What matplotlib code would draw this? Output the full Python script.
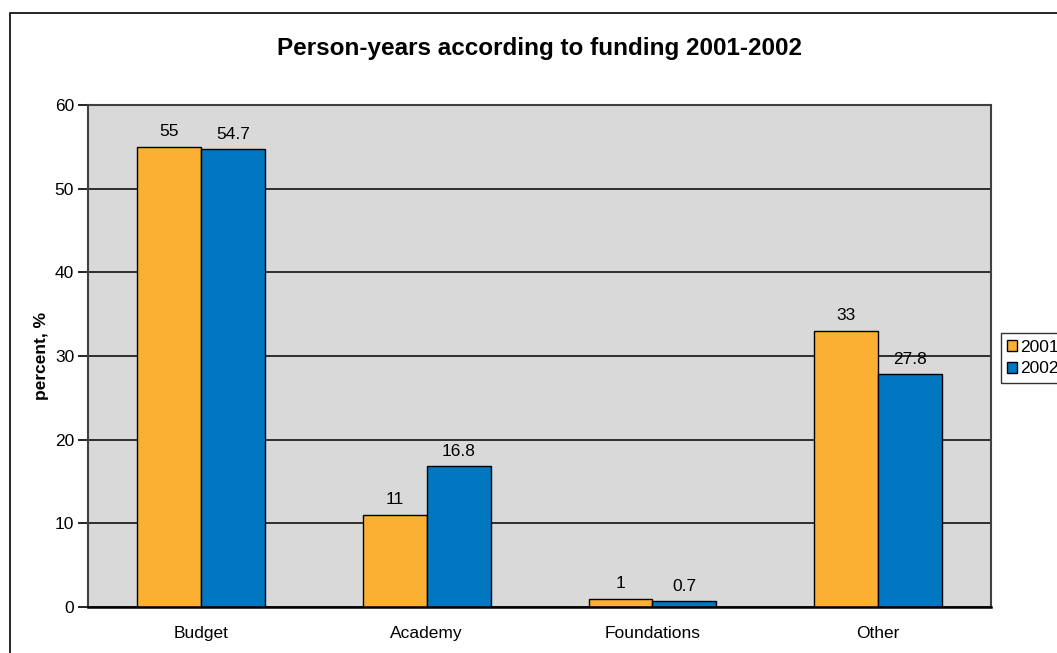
import numpy as np
import matplotlib.pyplot as plt
from matplotlib.patches import Rectangle

categories = ["Budget", "Academy", "Foundations", "Other"]
years = ["2001", "2002"]
values_2001 = [55, 11, 1, 33]
values_2002 = [54.7, 16.8, 0.7, 27.8]
labels_2001 = ["55", "11", "1", "33"]
labels_2002 = ["54.7", "16.8", "0.7", "27.8"]

plt.rcParams['font.family'] = ['Liberation Sans', 'DejaVu Sans']

fig = plt.figure(figsize=(10.57, 6.53), dpi=100)
ax = fig.add_axes([0.0833, 0.0704, 0.8543, 0.7686])

# outer chart frame, runs off the right and bottom edge
fig.patches.append(Rectangle((10 / 1057, -0.1), 1.2, 1 - 13 / 653 + 0.1,
                             transform=fig.transFigure, fill=False,
                             edgecolor="black", linewidth=1.2))

x = np.arange(len(categories))
w = 0.283
ax.set_facecolor("#d9d9d9")
ax.set_axisbelow(True)
ax.yaxis.grid(True, color="black", linewidth=1.1)

b1 = ax.bar(x - w / 2, values_2001, w, color="#fbb034", edgecolor="black",
            linewidth=1, label=years[0])
b2 = ax.bar(x + w / 2, values_2002, w, color="#0077c0", edgecolor="black",
            linewidth=1, label=years[1])

for bars, labs in ((b1, labels_2001), (b2, labels_2002)):
    for r, t in zip(bars, labs):
        ax.text(r.get_x() + r.get_width() / 2, r.get_height() + 0.9, t,
                ha="center", va="bottom", fontsize=12.5)

ax.set_xlim(-0.5, len(categories) - 0.5)
ax.set_ylim(0, 60)
ax.set_yticks(range(0, 61, 10))
ax.set_xticks(x)
ax.set_xticklabels(categories, fontsize=12.5)
ax.tick_params(axis="x", length=0, pad=14)
ax.tick_params(axis="y", length=7, width=1.2, direction="out", labelsize=12.5, pad=3)
for s in ("left", "right", "top"):
    ax.spines[s].set_color("#404040")
    ax.spines[s].set_linewidth(1.5)
ax.spines["bottom"].set_linewidth(1.8)

ax.set_ylabel("percent, %", fontsize=12.5, fontweight="bold", labelpad=4)
fig.text(0.510, 0.926, "Person-years according to funding 2001-2002",
         ha="center", va="center", fontsize=17.5, fontweight="bold")

leg = fig.legend(handles=[b1, b2], loc="center left",
                 bbox_to_anchor=(1001 / 1057, 1 - 358 / 653), fontsize=12.5,
                 frameon=True, fancybox=False, edgecolor="black",
                 handlelength=0.6, handleheight=0.6, handletextpad=0.15,
                 borderpad=0.35, labelspacing=0.4, borderaxespad=0)
leg.get_frame().set_linewidth(1)

fig.savefig("out.png", dpi=100)
